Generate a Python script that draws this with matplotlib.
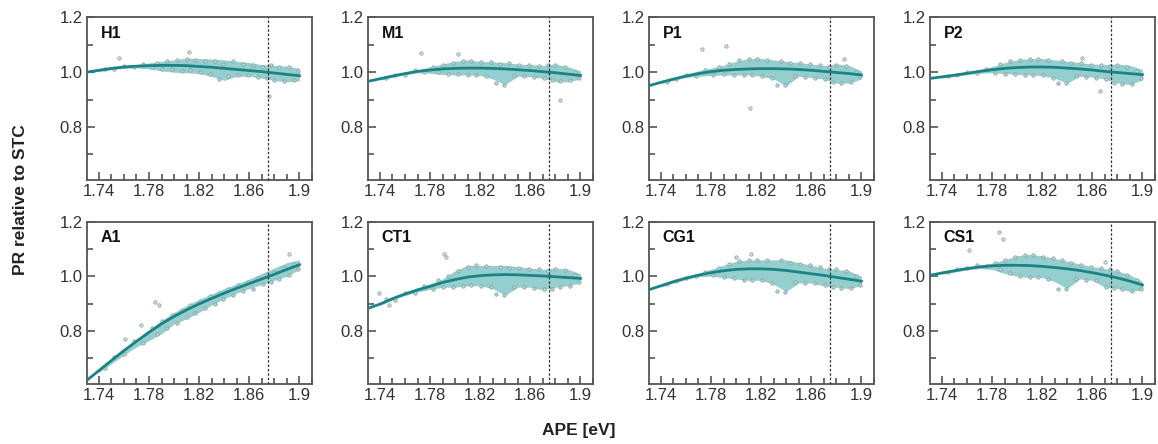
import matplotlib
matplotlib.use("Agg")
import matplotlib.pyplot as plt
from matplotlib.ticker import MultipleLocator, FixedLocator

plt.rcParams['font.family'] = ['Liberation Sans', 'DejaVu Sans']

# ---- data ----
panels = ['H1', 'M1', 'P1', 'P2', 'A1', 'CT1', 'CG1', 'CS1']
x_ref = 1.875  # dotted reference line

fit_x = [1.73, 1.74, 1.75, 1.76, 1.77, 1.78, 1.79, 1.80, 1.81, 1.82,
         1.83, 1.84, 1.85, 1.86, 1.87, 1.88, 1.89, 1.90]
fit_H1 = [1.000, 1.007, 1.014, 1.019, 1.022, 1.024, 1.025, 1.025, 1.024, 1.021,
          1.018, 1.014, 1.010, 1.006, 1.002, 0.997, 0.992, 0.987]
fit_M1 = [0.966, 0.976, 0.986, 0.995, 1.003, 1.008, 1.012, 1.014, 1.015, 1.015,
          1.014, 1.012, 1.009, 1.006, 1.002, 0.998, 0.993, 0.988]
fit_P1 = [0.950, 0.963, 0.975, 0.986, 0.995, 1.002, 1.007, 1.010, 1.012, 1.013,
          1.013, 1.012, 1.010, 1.007, 1.003, 0.999, 0.995, 0.990]
fit_P2 = [0.977, 0.983, 0.989, 0.996, 1.003, 1.009, 1.014, 1.017, 1.019, 1.019,
          1.018, 1.015, 1.012, 1.008, 1.003, 0.999, 0.995, 0.991]
fit_A1 = [0.618, 0.655, 0.692, 0.728, 0.762, 0.795, 0.826, 0.853, 0.877, 0.899,
          0.919, 0.938, 0.956, 0.973, 0.990, 1.007, 1.025, 1.042]
fit_CT1 = [0.882, 0.898, 0.918, 0.935, 0.950, 0.963, 0.977, 0.988, 0.997, 1.002,
           1.005, 1.006, 1.005, 1.003, 1.001, 0.998, 0.995, 0.992]
fit_CG1 = [0.950, 0.965, 0.980, 0.993, 1.004, 1.013, 1.020, 1.025, 1.027, 1.027,
           1.025, 1.021, 1.015, 1.009, 1.003, 0.996, 0.989, 0.982]
fit_CS1 = [1.003, 1.012, 1.020, 1.028, 1.034, 1.038, 1.040, 1.040, 1.039, 1.036,
           1.032, 1.027, 1.021, 1.013, 1.004, 0.994, 0.982, 0.968]

# envelope of the dense point cloud
env_x = [1.74, 1.75, 1.76, 1.77, 1.78, 1.79, 1.80, 1.81, 1.82,
         1.83, 1.84, 1.85, 1.86, 1.87, 1.88, 1.89, 1.90]
up_H1 = [1.012, 1.019, 1.024, 1.028, 1.034, 1.040, 1.045, 1.052, 1.050, 1.048, 1.045, 1.040, 1.035, 1.028, 1.025, 1.022, 1.015]
lo_H1 = [1.002, 1.009, 1.014, 1.016, 1.012, 1.005, 1.000, 0.998, 0.995, 0.985, 0.970, 0.985, 0.985, 0.978, 0.970, 0.965, 0.968]
up_M1 = [0.981, 0.991, 1.000, 1.008, 1.020, 1.030, 1.040, 1.045, 1.040, 1.038, 1.035, 1.030, 1.028, 1.025, 1.030, 1.020, 1.005]
lo_M1 = [0.971, 0.981, 0.990, 0.998, 0.996, 0.992, 0.990, 0.990, 0.988, 0.975, 0.955, 0.985, 0.983, 0.978, 0.965, 0.965, 0.975]
up_P1 = [0.968, 0.980, 0.991, 1.005, 1.015, 1.025, 1.040, 1.050, 1.050, 1.045, 1.040, 1.035, 1.030, 1.025, 1.030, 1.025, 1.005]
lo_P1 = [0.958, 0.970, 0.981, 0.985, 0.988, 0.990, 0.990, 0.990, 0.985, 0.975, 0.950, 0.985, 0.980, 0.975, 0.960, 0.960, 0.975]
up_P2 = [0.988, 0.994, 1.001, 1.010, 1.020, 1.035, 1.045, 1.050, 1.050, 1.045, 1.040, 1.035, 1.030, 1.028, 1.030, 1.025, 1.010]
lo_P2 = [0.978, 0.984, 0.991, 0.996, 0.998, 0.995, 0.992, 0.990, 0.988, 0.978, 0.960, 0.985, 0.982, 0.975, 0.960, 0.955, 0.972]
up_A1 = [0.662, 0.699, 0.735, 0.770, 0.805, 0.838, 0.868, 0.893, 0.915, 0.935, 0.955, 0.972, 0.990, 1.010, 1.030, 1.050, 1.060]
lo_A1 = [0.648, 0.680, 0.712, 0.742, 0.765, 0.790, 0.825, 0.845, 0.868, 0.895, 0.918, 0.938, 0.955, 0.970, 0.985, 1.000, 1.025]
up_CT1 = [0.903, 0.923, 0.940, 0.958, 0.972, 0.990, 1.020, 1.040, 1.040, 1.040, 1.040, 1.035, 1.030, 1.025, 1.030, 1.025, 1.010]
lo_CT1 = [0.893, 0.913, 0.930, 0.942, 0.952, 0.960, 0.960, 0.965, 0.965, 0.955, 0.930, 0.960, 0.960, 0.950, 0.960, 0.965, 0.975]
up_CG1 = [0.970, 0.985, 0.998, 1.010, 1.025, 1.040, 1.055, 1.060, 1.060, 1.060, 1.060, 1.050, 1.040, 1.030, 1.025, 1.020, 1.000]
lo_CG1 = [0.960, 0.975, 0.988, 0.998, 1.000, 0.995, 0.990, 0.985, 0.985, 0.970, 0.945, 0.975, 0.975, 0.965, 0.960, 0.955, 0.965]
up_CS1 = [1.017, 1.025, 1.033, 1.040, 1.048, 1.060, 1.075, 1.080, 1.075, 1.065, 1.055, 1.045, 1.035, 1.028, 1.020, 1.005, 0.980]
lo_CS1 = [1.007, 1.015, 1.023, 1.028, 1.025, 1.010, 1.000, 0.995, 0.995, 0.980, 0.955, 0.990, 0.985, 0.960, 0.955, 0.945, 0.950]

# individual measurements
pts_x = [1.745, 1.752, 1.760, 1.768, 1.775, 1.782, 1.786, 1.790, 1.794, 1.798,
         1.802, 1.806, 1.810, 1.813, 1.817, 1.821, 1.825, 1.829, 1.833, 1.836,
         1.839, 1.843, 1.847, 1.851, 1.855, 1.859, 1.863, 1.867, 1.871, 1.874,
         1.877, 1.880, 1.884, 1.888, 1.892, 1.896, 1.899]
pts_H1 = [1.012, 1.013, 1.022, 1.019, 1.030, 1.020, 1.035, 1.012, 1.040, 1.010,
          1.044, 1.004, 1.050, 1.008, 1.045, 1.000, 1.042, 0.995, 1.040, 0.975,
          1.030, 0.985, 1.040, 0.990, 1.030, 0.988, 1.025, 0.982, 1.020, 0.980,
          1.025, 0.972, 1.020, 0.968, 1.018, 0.972, 1.005]
pts_M1 = [0.978, 0.990, 0.990, 1.008, 1.002, 1.020, 1.000, 1.028, 0.995, 1.035,
          0.992, 1.042, 0.990, 1.040, 0.990, 1.038, 0.985, 1.036, 0.960, 1.030,
          0.955, 1.032, 0.988, 1.028, 0.986, 1.026, 0.982, 1.022, 0.978, 1.025,
          0.970, 1.028, 0.968, 1.018, 0.970, 1.000, 0.980]
pts_P1 = [0.965, 0.977, 0.990, 0.985, 1.008, 0.990, 1.020, 0.992, 1.030, 0.990,
          1.045, 0.990, 1.048, 0.988, 1.050, 0.985, 1.045, 0.978, 0.955, 1.040,
          0.952, 1.035, 0.985, 1.032, 0.984, 1.030, 0.980, 1.025, 0.976, 1.020,
          0.965, 1.028, 0.962, 1.022, 0.965, 1.000, 0.985]
pts_P2 = [0.985, 0.990, 1.000, 0.998, 1.012, 0.998, 1.030, 0.995, 1.040, 0.993,
          1.045, 0.990, 1.050, 0.990, 1.048, 0.988, 1.045, 0.980, 0.962, 1.040,
          0.960, 1.035, 0.986, 1.032, 0.984, 1.028, 0.980, 1.025, 0.975, 1.022,
          0.962, 1.028, 0.958, 1.020, 0.958, 1.005, 0.978]
pts_A1 = [0.665, 0.705, 0.715, 0.762, 0.755, 0.810, 0.790, 0.835, 0.812, 0.857,
          0.830, 0.876, 0.850, 0.893, 0.865, 0.910, 0.885, 0.926, 0.900, 0.940,
          0.915, 0.953, 0.930, 0.967, 0.945, 0.980, 0.955, 0.993, 0.970, 1.005,
          0.980, 1.016, 0.990, 1.030, 1.005, 1.045, 1.025]
pts_CT1 = [0.915, 0.912, 0.940, 0.940, 0.965, 0.955, 0.985, 0.960, 1.000, 0.962,
           1.020, 0.965, 1.035, 0.968, 1.040, 0.965, 1.038, 0.960, 0.935, 1.035,
           0.930, 1.030, 0.962, 1.030, 0.960, 1.028, 0.958, 1.025, 0.952, 1.020,
           0.955, 1.028, 0.962, 1.022, 0.965, 1.005, 0.978]
pts_CG1 = [0.970, 0.984, 0.995, 1.000, 1.015, 1.005, 1.030, 0.998, 1.045, 0.992,
           1.055, 0.988, 1.060, 0.985, 1.058, 0.985, 1.058, 0.975, 0.945, 1.058,
           0.942, 1.050, 0.978, 1.045, 0.976, 1.040, 0.975, 1.032, 0.968, 1.028,
           0.962, 1.025, 0.958, 1.020, 0.958, 1.000, 0.968]
pts_CS1 = [1.015, 1.025, 1.030, 1.040, 1.036, 1.050, 1.028, 1.060, 1.010, 1.072,
           1.000, 1.078, 0.998, 1.078, 0.997, 1.072, 0.990, 1.065, 0.955, 1.058,
           0.952, 1.048, 0.990, 1.042, 0.988, 1.035, 0.985, 1.030, 0.962, 1.025,
           0.958, 1.020, 0.952, 1.005, 0.945, 0.985, 0.952]

# outliers per panel
out_H1 = ([1.756, 1.812, 1.876], [1.051, 1.075, 0.914])
out_M1 = ([1.773, 1.802, 1.884], [1.070, 1.066, 0.900])
out_P1 = ([1.773, 1.792, 1.811, 1.886], [1.085, 1.094, 0.870, 1.050])
out_P2 = ([1.852, 1.866], [1.052, 0.933])
out_A1 = ([1.761, 1.774, 1.785, 1.788, 1.892], [0.770, 0.820, 0.905, 0.893, 1.082])
out_CT1 = ([1.739, 1.747, 1.7915, 1.793], [0.938, 0.893, 1.081, 1.069])
out_CG1 = ([1.800, 1.812], [1.072, 1.080])
out_CS1 = ([1.762, 1.7856, 1.789, 1.870], [1.096, 1.160, 1.136, 1.051])

fits = [fit_H1, fit_M1, fit_P1, fit_P2, fit_A1, fit_CT1, fit_CG1, fit_CS1]
ups = [up_H1, up_M1, up_P1, up_P2, up_A1, up_CT1, up_CG1, up_CS1]
los = [lo_H1, lo_M1, lo_P1, lo_P2, lo_A1, lo_CT1, lo_CG1, lo_CS1]
pts = [pts_H1, pts_M1, pts_P1, pts_P2, pts_A1, pts_CT1, pts_CG1, pts_CS1]
outs = [out_H1, out_M1, out_P1, out_P2, out_A1, out_CT1, out_CG1, out_CS1]

# ---- figure ----
fig = plt.figure(figsize=(11.58, 4.44), dpi=100)
lefts = [0.0751, 0.3178, 0.5604, 0.8031]
bottoms = [0.5946, 0.1351]
w, h = 0.1943, 0.366

teal = '#1a8484'
band = '#7ac2c2'
frame = '#555555'

for k, name in enumerate(panels):
    ax = fig.add_axes([lefts[k % 4], bottoms[k // 4], w, h])
    ax.fill_between(env_x, los[k], ups[k], color=band, alpha=0.8, lw=0, zorder=1)
    ax.scatter(pts_x, pts[k], s=6, facecolor='#b0d8d8', edgecolor='#8a9898',
               linewidths=0.5, zorder=2)
    ax.scatter(outs[k][0], outs[k][1], s=6, facecolor='#d4dede', edgecolor='#8a9898',
               linewidths=0.5, zorder=2)
    ax.plot(fit_x, fits[k], color=teal, lw=2.0, zorder=3)
    ax.axvline(x_ref, color='#333333', lw=0.9, ls=(0, (2, 1.5)), zorder=4)

    ax.set_xlim(1.7305, 1.91)
    ax.set_ylim(0.606, 1.2)
    ax.xaxis.set_major_locator(FixedLocator([1.74, 1.78, 1.82, 1.86, 1.9]))
    ax.xaxis.set_minor_locator(MultipleLocator(0.01))
    ax.set_xticklabels(['1.74', '1.78', '1.82', '1.86', '1.9'])
    ax.yaxis.set_major_locator(FixedLocator([0.8, 1.0, 1.2]))
    ax.yaxis.set_minor_locator(FixedLocator([0.7, 0.9, 1.1]))
    ax.set_yticklabels(['0.8', '1.0', '1.2'])
    ax.tick_params(which='both', direction='in', color=frame, width=1.2,
                   labelsize=12, labelcolor='#333333', pad=3)
    ax.tick_params(which='major', length=6)
    ax.tick_params(which='minor', length=4)
    for s in ax.spines.values():
        s.set_color(frame)
        s.set_linewidth(1.3)
    ax.text(0.06, 0.9, name, transform=ax.transAxes, fontsize=11.5,
            fontweight='bold', ha='left', va='center', color='#111111')

fig.text(0.018, 0.55, 'PR relative to STC', rotation=90, ha='center', va='center',
         fontsize=12.5, fontweight='bold', color='#222222')
fig.text(0.5, 0.03, 'APE [eV]', ha='center', va='center',
         fontsize=12.5, fontweight='bold', color='#222222')

fig.savefig('out.png', dpi=100)
